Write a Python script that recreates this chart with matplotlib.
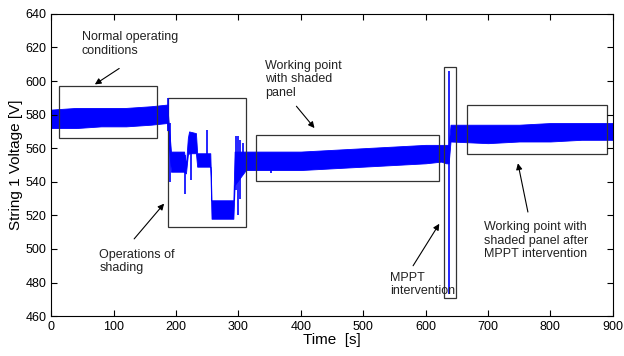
import matplotlib
matplotlib.use("Agg")
import matplotlib.pyplot as plt
from matplotlib.patches import Rectangle

plt.rcParams['font.family'] = ['Liberation Sans', 'DejaVu Sans']

# Envelope of the noisy voltage trace
band_t = [0, 40, 80, 120, 160, 186, 189, 192, 213, 216, 219, 221, 232, 234,
          255, 257, 292, 294, 312, 318, 360, 400, 450, 500, 550, 600, 625,
          633, 637, 640, 700, 750, 800, 850, 900]
band_lo = [572, 572, 573, 573, 574, 575, 560, 546, 546, 545, 556, 557, 557, 549,
           549, 518, 518, 538, 547, 547, 547, 547, 548, 549, 550, 551, 552,
           551, 551, 564, 563, 564, 564, 565, 565]
band_hi = [583, 584, 584, 584, 585, 586, 572, 558, 558, 550, 566, 570, 569, 557,
           557, 529, 529, 558, 558, 558, 558, 558, 559, 560, 561, 562, 562,
           562, 562, 574, 574, 574, 575, 575, 575]

# Isolated spikes: time, low, high
spike_t = [188, 190, 214, 224, 250, 297, 300, 303, 307, 353, 638]
spike_lo = [570, 540, 533, 541, 550, 535, 520, 530, 545, 545, 473]
spike_hi = [590, 575, 556, 565, 571, 567, 567, 565, 563, 556, 606]

# Boxes: t0, t1, v0, v1
boxes = [(13, 169, 566, 597), (187, 312, 513, 590), (329, 621, 540.5, 568),
         (629.5, 649, 471, 608.5), (667, 890.5, 556.5, 586)]

notes = ["Normal operating\nconditions", "Operations of\nshading",
         "Working point\nwith shaded\npanel", "MPPT\nintervention",
         "Working point with\nshaded panel after\nMPPT intervention"]
note_xy = [(49, 622), (77, 492.5), (343, 601), (543, 479), (693, 505)]
arrow_from = [(109, 607.5), (133, 506), (393, 585), (580, 490), (764, 522)]
arrow_to = [(70, 598), (181, 527), (422, 572), (622, 515), (748, 551)]

fig, ax = plt.subplots(figsize=(6.24, 3.56), dpi=100)
fig.subplots_adjust(left=0.082, right=0.982, bottom=0.112, top=0.961)

ax.fill_between(band_t, band_lo, band_hi, color='#0000ff', linewidth=0.6,
                edgecolor='#0000ff')
ax.vlines(spike_t, spike_lo, spike_hi, color='#0000ff', linewidth=1.2)

for t0, t1, v0, v1 in boxes:
    ax.add_patch(Rectangle((t0, v0), t1 - t0, v1 - v0, fill=False,
                           edgecolor='#333333', linewidth=0.9))

for txt, xy, a0, a1 in zip(notes, note_xy, arrow_from, arrow_to):
    ax.text(xy[0], xy[1], txt, fontsize=9, ha='left', va='center',
            color='#222222', linespacing=1.15)
    ax.annotate('', xy=a1, xytext=a0,
                arrowprops=dict(arrowstyle='-|>', color='black', lw=0.8,
                                mutation_scale=9, shrinkA=0, shrinkB=0))

ax.set_xlim(0, 900)
ax.set_ylim(460, 640)
ax.set_xticks(range(0, 901, 100))
ax.set_yticks(range(460, 641, 20))
ax.tick_params(direction='in', top=True, right=True, labelsize=9, length=4)
ax.set_xlabel("Time  [s]", fontsize=11, labelpad=0)
ax.set_ylabel("String 1 Voltage [V]", fontsize=11, labelpad=2)

plt.savefig("out.png", dpi=100)
